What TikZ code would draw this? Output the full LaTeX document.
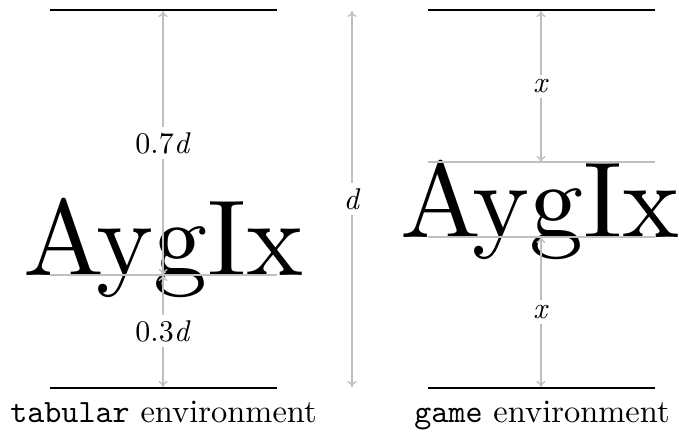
\documentclass[tikz,border=0pt]{standalone}
\usepackage{fontspec}
\setmainfont{lmroman10-regular.otf}[ItalicFont=lmroman10-italic.otf]
\setmonofont{lmmono10-regular.otf}
\usetikzlibrary{arrows.meta}
\begin{document}
\begin{tikzpicture}[x=1pt,y=-1pt,
  rule/.style={line width=2pt,black},
  guide/.style={line width=1.4pt,black!25},
  dim/.style={line width=1.4pt,black!25,{To[length=6pt,width=9pt]}-{To[length=6pt,width=9pt]}},
  lab/.style={fill=white,text=black,font=\fontsize{30}{36}\selectfont,inner sep=5pt},
  big/.style={font=\fontsize{108}{120}\selectfont,inner sep=0pt,anchor=base},
  capt/.style={font=\fontsize{32.5}{38}\selectfont,anchor=base,inner sep=0pt}]
\useasboundingbox (0,0) rectangle (679,433);
% texts
\node[big] (tA) at (163.5,275) {AygIx};
\node[big] (gA) at (540,237) {AygIx};
\node[capt] (tcap) at (163.5,422) {\texttt{tabular} environment};
\node[capt] (gcap) at (542,422) {\texttt{game} environment};
% left panel
\coordinate (LTl) at (50,10);  \coordinate (LTr) at (277,10);
\coordinate (LBl) at (50,388); \coordinate (LBr) at (277,388);
\coordinate (LGl) at (50,275); \coordinate (LGr) at (277,275);
\coordinate (La) at (163,11); \coordinate (Lb) at (163,275); \coordinate (Lc) at (163,387);
\draw[rule] (LTl) -- (LTr);
\draw[rule] (LBl) -- (LBr);
\draw[guide] (LGl) -- (LGr);
\draw[dim] (La) -- node[lab] (l07) {0.7\textit{d}} (Lb);
\draw[dim] (Lb) -- node[lab] (l03) {0.3\textit{d}} (Lc);
% middle
\coordinate (Ma) at (352,11); \coordinate (Mb) at (352,387);
\draw[dim] (Ma) -- node[lab] (ld) {\textit{d}} (Mb);
% right panel
\coordinate (RTl) at (428,10);  \coordinate (RTr) at (655,10);
\coordinate (RBl) at (428,388); \coordinate (RBr) at (655,388);
\coordinate (RG1l) at (428,162); \coordinate (RG1r) at (655,162);
\coordinate (RG2l) at (428,237); \coordinate (RG2r) at (655,237);
\coordinate (Ra) at (541,11); \coordinate (Rb) at (541,162);
\coordinate (Rc) at (541,237); \coordinate (Rd) at (541,387);
\draw[rule] (RTl) -- (RTr);
\draw[rule] (RBl) -- (RBr);
\draw[guide] (RG1l) -- (RG1r);
\draw[guide] (RG2l) -- (RG2r);
\draw[dim] (Ra) -- node[lab] (rx1) {\textit{x}} (Rb);
\draw[dim] (Rc) -- node[lab] (rx2) {\textit{x}} (Rd);
\end{tikzpicture}
\end{document}
